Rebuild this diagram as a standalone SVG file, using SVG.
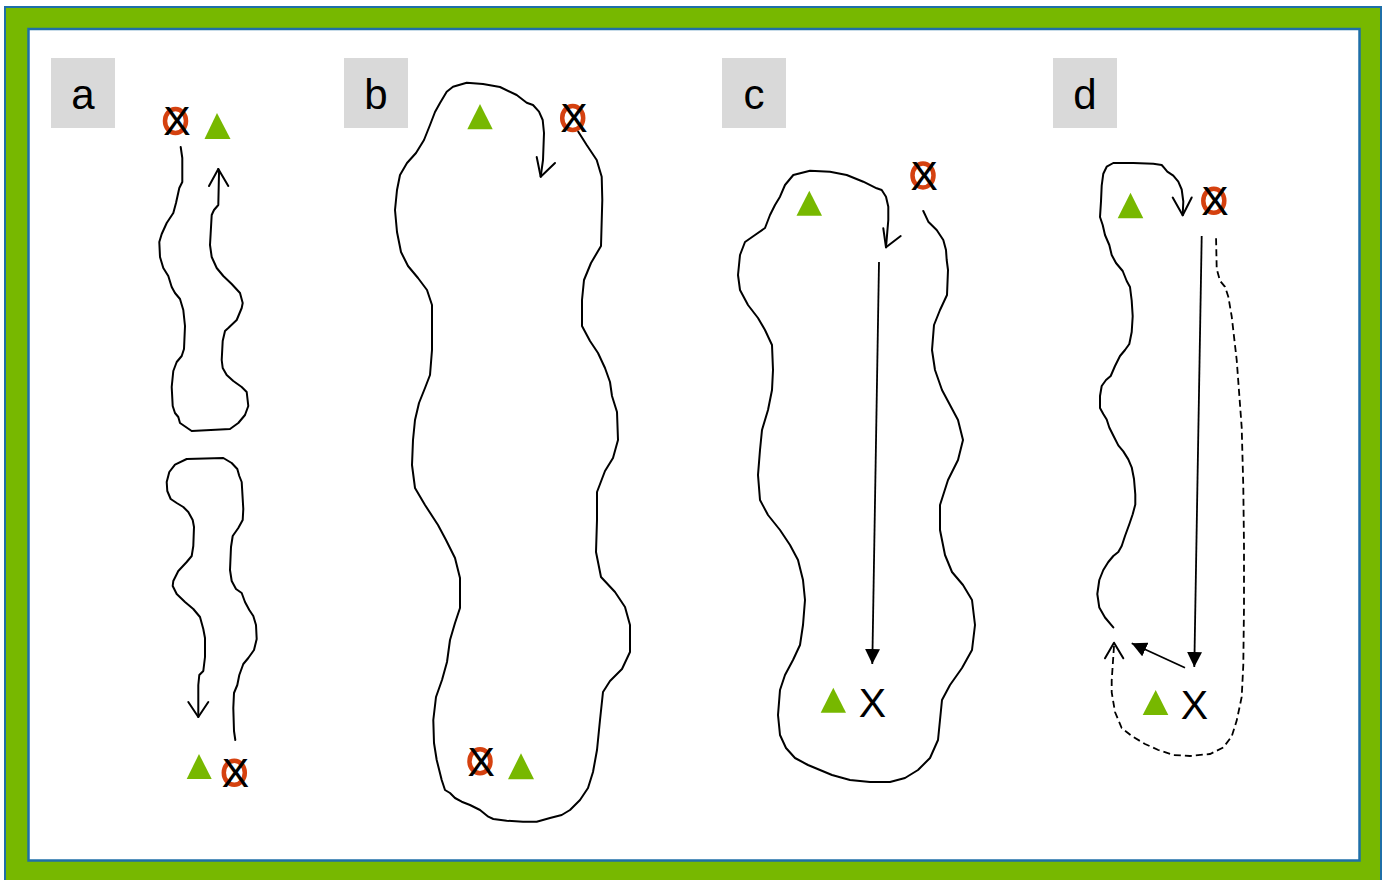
<svg xmlns="http://www.w3.org/2000/svg" width="1382" height="880" viewBox="0 0 1382 880">
<style>
.frame{fill:#77b800;stroke:#1f6fa8;stroke-width:2}
.inner{fill:#ffffff;stroke:#1f6fa8;stroke-width:2.5}
.lbox{fill:#d9d9d9}
.ltxt{font-family:"Liberation Sans",Arial,sans-serif;font-size:42px;fill:#000;text-anchor:middle}
.xtxt{font-family:"Liberation Sans",Arial,sans-serif;font-size:41px;fill:#000;text-anchor:middle}
.ring{fill:none;stroke:#d5410f;stroke-width:4.5}
.tri{fill:#77b800}
.hand{fill:none;stroke:#000;stroke-width:2;stroke-linejoin:round;stroke-linecap:round}
.straight{fill:none;stroke:#000;stroke-width:1.8}
.dash{fill:none;stroke:#000;stroke-width:1.8;stroke-dasharray:7 4}
</style>
<defs>
<marker id="fill" viewBox="0 0 15 15" refX="15" refY="7.5" markerWidth="15" markerHeight="15" markerUnits="userSpaceOnUse" orient="auto">
<path d="M0,0 L15,7.5 L0,15 z" fill="#000"/>
</marker>
</defs>
<rect class="frame" x="5" y="7" width="1376" height="880"/>
<rect class="inner" x="28.5" y="29" width="1331" height="831.5"/>

<g id="label-a"><rect class="lbox" x="51" y="58" width="64" height="70"/><text class="ltxt" x="83" y="109">a</text></g>
<g id="label-b"><rect class="lbox" x="344" y="58" width="64" height="70"/><text class="ltxt" x="376" y="109">b</text></g>
<g id="label-c"><rect class="lbox" x="722" y="58" width="64" height="70"/><text class="ltxt" x="754" y="109">c</text></g>
<g id="label-d"><rect class="lbox" x="1053" y="58" width="64" height="70"/><text class="ltxt" x="1085" y="109">d</text></g>

<g id="panel-a-symbols">
<ellipse class="ring" cx="175.5" cy="121" rx="10.5" ry="12"/><text class="xtxt" x="177" y="135">X</text>
<polygon class="tri" points="217,113 230.5,139 204.5,139"/>
<polygon class="tri" points="199,754 211.7,779 186.7,779"/>
<ellipse class="ring" cx="234.3" cy="772.8" rx="10.5" ry="12"/><text class="xtxt" x="235.5" y="787">X</text>
</g>
<g id="panel-b-symbols">
<polygon class="tri" points="480,104 492.7,129.3 467.3,129.3"/>
<ellipse class="ring" cx="572.7" cy="118" rx="10.5" ry="12"/><text class="xtxt" x="574" y="132">X</text>
<ellipse class="ring" cx="480" cy="761.3" rx="10.5" ry="12"/><text class="xtxt" x="481.3" y="775.5">X</text>
<polygon class="tri" points="521,753.3 534,779.3 508,779.3"/>
</g>
<g id="panel-c-symbols">
<polygon class="tri" points="809.3,190.7 822,215.7 796.5,215.7"/>
<ellipse class="ring" cx="923" cy="175.4" rx="10.5" ry="12"/><text class="xtxt" x="924.3" y="189.5">X</text>
<polygon class="tri" points="833.3,687.7 846,712.7 820.7,712.7"/>
<text class="xtxt" x="872.5" y="717">X</text>
</g>
<g id="panel-d-symbols">
<polygon class="tri" points="1130.5,192.7 1143.3,218.3 1117.7,218.3"/>
<ellipse class="ring" cx="1213.8" cy="200.8" rx="10.5" ry="12"/><text class="xtxt" x="1215" y="215">X</text>
<polygon class="tri" points="1155.7,690 1168.3,715 1142.7,715"/>
<text class="xtxt" x="1194.5" y="719">X</text>
</g>

<g id="connectors">
<path class="hand" d="M180.7,147 L182.3,158 L182.3,182 L179.3,188 L176,203 L173.3,213 L166.7,223 L161.7,234 L159.3,242 L160,257 L163.3,268 L168.3,276 L171.7,287 L175,293 L180,299 L183.3,310 L185,326 L184,349 L181.7,356 L176.7,362 L173.3,371 L171.7,387 L172.7,406 L175,413 L178.3,417 L180,423 L191.7,431 L230,429 L238.3,423 L245,415 L248.3,406 L246.7,392 L241.7,387 L233.3,381 L226.7,375 L222.7,368 L221.7,360 L222.7,341 L225,331 L228.3,328 L236.7,320 L241.7,308 L242.7,303 L240,293 L231.7,284 L223.3,276 L216.7,268 L211.7,257 L210,245 L211.7,215 L214,210 L218.3,205 L219,173 L218.3,169"/>
<path class="hand" d="M209,186 L218.3,169 L228.3,186"/>
<path class="hand" d="M198.3,717 L198.3,685 L199.3,675 L203.3,671 L205,657 L205,638 L203.3,629 L200,617 L193.3,609 L185,602 L176.7,594 L172.7,586 L173.3,581 L178.3,571 L186.7,562 L191.7,556 L193.3,546 L194,527 L192.7,520 L188.3,512 L183.3,507 L176.7,503 L170.7,499 L167.3,491 L166.7,482 L169.3,472 L175,464.6 L186.7,459 L223.3,458 L231.7,463 L237.3,469 L239.3,476 L241.7,482 L243.3,509 L242.7,520 L238.3,528 L232.7,536 L231,547 L230,570 L231.7,581 L236,589 L241.7,593 L245,602 L249.3,610 L253.3,616 L256,625 L256.7,639 L254,650 L248.3,658 L243.3,664 L239.3,675 L237.3,685 L234,693 L233.3,708 L234,731 L235.3,740"/>
<path class="hand" d="M188.3,702 L198.3,717 L208.3,702"/>

<path class="hand" d="M540.7,176.7 L543,160 L544,133 L542.7,120 L539,111.7 L533,105 L526.7,102.7 L516.7,95 L500,87 L483,84 L466.7,82.7 L453,86.7 L446.7,91.7 L440,103 L435,112 L430,125 L424,140 L416,153 L407,163 L400,175 L397,190 L395,210 L397,232 L401,252 L408,266 L418,278 L427,290 L432,305 L432,350 L430,375 L425,388 L419,403 L415,420 L413,440 L412,465 L415,488 L425,505 L438,525 L446,540 L455,558 L460,578 L460,608 L455,623 L450,640 L447,662 L442,680 L436,697 L433.3,720 L434,743 L436.7,760 L441.7,780 L445,790 L450,793 L455,798 L461.7,801.7 L470,805 L480,810 L488.3,816.7 L493.3,819 L506.7,820.7 L523,821.7 L536.7,821.7 L550,818 L561.7,815 L570,810 L580,800 L588,788 L593,772 L597,750 L600,720 L603,692 L610,681 L622,669 L630,652 L630,625 L625,607 L615,592 L601,577 L596,552 L597,520 L597,492 L605,471 L613,458 L618,440 L617,412 L612,396 L610,382 L605,368 L598,353 L590,341 L582,326 L582,300 L584,280 L591,263 L601,246 L602.3,200 L601.7,176.7 L596.7,160 L586.7,145 L578.3,131.7"/>
<path class="hand" d="M536.7,157 L540.7,176.7 L555,163"/>

<path class="hand" d="M886,247.3 L888.3,220 L888.3,206.7 L886,196.7 L881.7,190 L876.7,188.3 L863.3,181.7 L846.7,175 L830,171.7 L810,170.7 L793.3,175 L785,185 L780,196.7 L775,205 L770,215 L765,228 L755,235 L745,242 L740,255 L738,275 L740,290 L748,305 L758,318 L765,330 L772,345 L773,370 L772,390 L768,410 L762,430 L760,450 L758,475 L760,500 L768,515 L780,530 L790,545 L798,560 L803,580 L805,600 L803,625 L800,645 L793,660 L785,675 L780,690 L778,715 L780,735 L786,748 L795,758 L808,765 L820,770 L832,775 L850,780 L870,782 L890,782 L905,778 L918,770 L930,758 L938,740 L940,720 L942,700 L950,685 L962,668 L972,650 L975,625 L972,600 L963,585 L952,572 L945,555 L940,530 L940,505 L948,480 L958,460 L963,440 L958,420 L950,405 L942,390 L935,370 L932,350 L934,325 L940,310 L947,295 L948,270 L946.7,260 L946,250 L943.3,240 L936.7,230 L928.3,221.7 L923.3,211"/>
<path class="hand" d="M883.3,228.3 L886,247.3 L900.7,236"/>
<line class="straight" x1="879" y1="262" x2="872.3" y2="664" marker-end="url(#fill)"/>

<path class="hand" d="M1182.7,215.3 L1183.3,201.5 L1181.7,189.5 L1178.3,181.6 L1173.3,175.7 L1167.3,171.7 L1164,167.7 L1161.7,165 L1153.3,163.8 L1133.3,163 L1113.3,163 L1106.7,166.7 L1103.3,173.7 L1101.7,185.6 L1101,201.4 L1100,217 L1102.7,225 L1105,235 L1109.3,245 L1111.7,255 L1116,263 L1122.7,271 L1126.7,281 L1130,287 L1131.7,300.6 L1132.7,316.3 L1131.7,332 L1129.3,344 L1125,350 L1120,356 L1115,366 L1110.7,376 L1106,380 L1101.7,386 L1100,396 L1100,408 L1103.3,414 L1106.7,419.5 L1109.3,427.5 L1113.3,435.5 L1118.3,445.4 L1123.3,451.4 L1128.3,459.4 L1131.7,467.3 L1134,479 L1135.3,494.5 L1135.3,504.4 L1132.7,514.3 L1129.3,524.2 L1125,536 L1121.7,546 L1118.3,552 L1113.3,556 L1108.3,562 L1103.3,570 L1099.3,580 L1097.3,594 L1099.3,607.6 L1105,617.5 L1113.3,627.4"/>
<path class="hand" d="M1172.7,197.5 L1182.7,215.3 L1191.7,197.5"/>
<path class="dash" d="M1114,646 L1111.7,680.5 L1111.7,692.4 L1115,712 L1121.7,728 L1131.7,736 L1145,744 L1158.3,750 L1173.3,755 L1190,756 L1210,754 L1223.3,747.5 L1231.7,736.4 L1236.7,720.6 L1241.7,697 L1243.3,665 L1244,606 L1244,546.5 L1243.3,487 L1241.7,427.5 L1236.7,360 L1231.7,316.4 L1228.3,296.6 L1225,286.8 L1220,280.8 L1216.7,268.8 L1216,235"/>
<path class="hand" d="M1105,658.3 L1114,642.7 L1123.3,658.3"/>
<line class="straight" x1="1201.7" y1="236" x2="1194.3" y2="667" marker-end="url(#fill)"/>
<line class="straight" x1="1185" y1="667.7" x2="1131.7" y2="643.3" marker-end="url(#fill)"/>
</g>
</svg>
